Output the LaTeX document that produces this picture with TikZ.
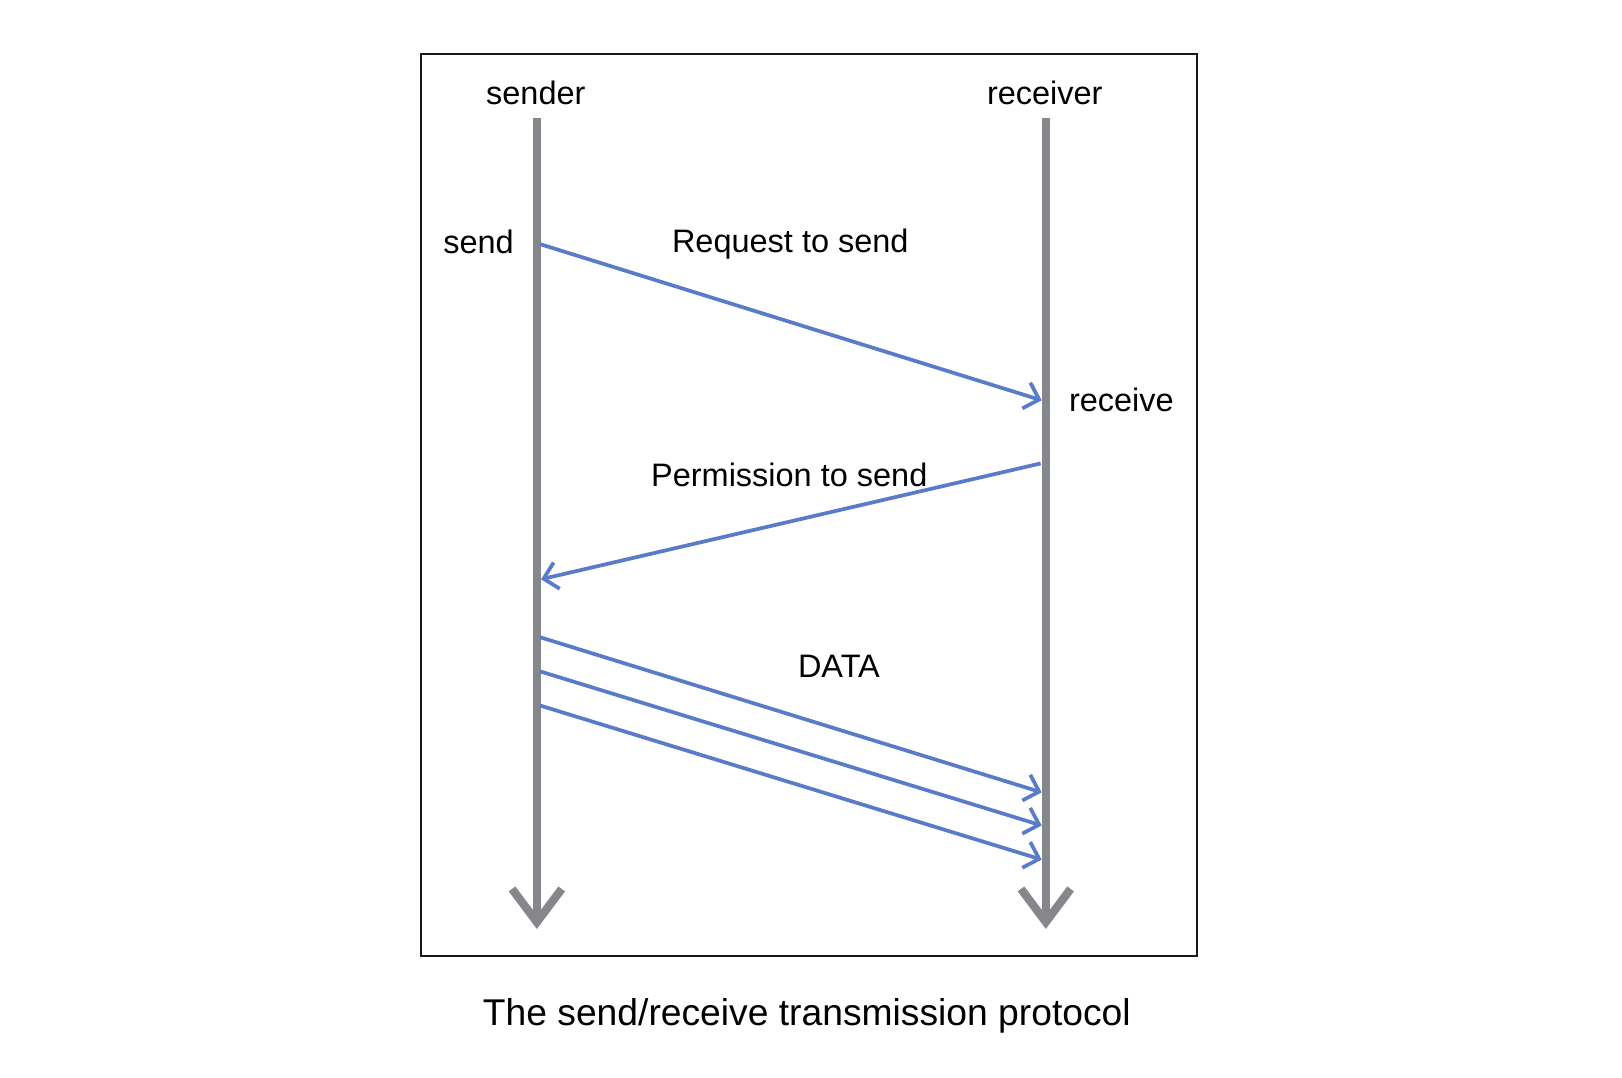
\documentclass[tikz,border=0pt]{standalone}
\usepackage{fontspec}
\setmainfont{Liberation Sans}
\usetikzlibrary{arrows.meta}
\definecolor{lifegray}{HTML}{86878B}
\definecolor{msgblue}{HTML}{5A7BC9}
\begin{document}
\begin{tikzpicture}[x=0.5pt,y=-0.5pt,
  frame/.style={draw=black!90, line width=1.2pt},
  lbl/.style={inner sep=0pt, font=\fontsize{15.7}{18}\selectfont},
  captiontext/.style={inner sep=0pt, font=\fontsize{18}{21}\selectfont},
  life/.style={draw=lifegray, line width=4pt, -{Straight Barb[length=16pt,width=24pt]}},
  msg/.style={draw=msgblue, line width=1.8pt, -{Straight Barb[length=6.5pt,width=13pt]}}]
\useasboundingbox (0,0) rectangle (1568,1042);
\draw[frame] (407,52) rectangle (1157,924);
% lifeline labels
\node[lbl] (sender) at (518,90) {sender};
\node[lbl] (receiver) at (1010,90) {receiver};
% lifelines
\coordinate (stop) at (519,114);
\coordinate (sbot) at (519,898);
\coordinate (rtop) at (1011,114);
\coordinate (rbot) at (1011,898);
\draw[life] (stop) -- (sbot);
\draw[life] (rtop) -- (rbot);
% message endpoints
\coordinate (s1) at (522,236);
\coordinate (r1) at (1007,387);
\coordinate (r2) at (1006,448);
\coordinate (s2) at (523,560);
\coordinate (s3) at (522,616);
\coordinate (r3) at (1007,766);
\coordinate (s4) at (522,649);
\coordinate (r4) at (1007,798);
\coordinate (s5) at (522,682);
\coordinate (r5) at (1007,831);
\draw[msg] (s1) -- (r1);
\draw[msg] (r2) -- (s2);
\draw[msg] (s3) -- (r3);
\draw[msg] (s4) -- (r4);
\draw[msg] (s5) -- (r5);
% labels
\node[lbl, anchor=east] (send) at (497,234) {send};
\node[lbl] (req) at (764,236) {Request to send};
\node[lbl, anchor=west] (recv) at (1033,387) {receive};
\node[lbl] (perm) at (763,459) {Permission to send};
\node[lbl] (data) at (811,644) {DATA};
\node[captiontext] (caption) at (780,982) {The send/receive transmission protocol};
\end{tikzpicture}
\end{document}
